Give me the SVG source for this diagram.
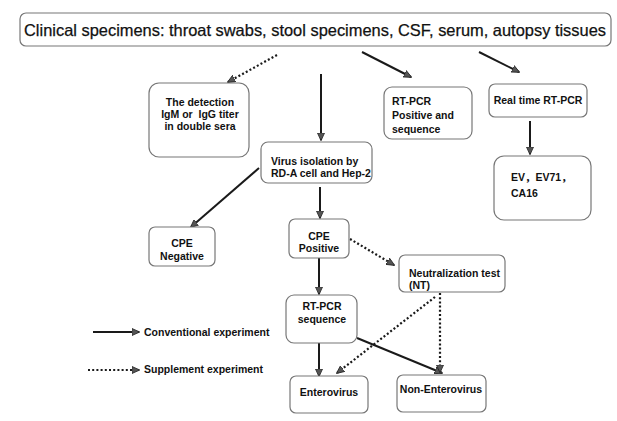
<svg xmlns="http://www.w3.org/2000/svg" width="617" height="421" viewBox="0 0 617 421">
<defs>
<marker id="ah" viewBox="0 0 10 10" refX="9" refY="5" markerWidth="8" markerHeight="8" markerUnits="userSpaceOnUse" orient="auto">
<path d="M0,0.5 L10,5 L0,9.5 Z" fill="#555" stroke="#222" stroke-width="1"/>
</marker>
</defs>
<style>
.box{fill:#fff;stroke:#777;stroke-width:1.2}
.t{font-family:"Liberation Sans",Arial,sans-serif;font-size:10.5px;font-weight:bold;fill:#111}
.cjk{font-family:"Liberation Sans","Noto Sans CJK SC",sans-serif}
.title{font-family:"Liberation Sans",Arial,sans-serif;font-size:16.5px;fill:#111;stroke:#111;stroke-width:0.25}
.solid{stroke:#1a1a1a;stroke-width:2;fill:none;marker-end:url(#ah)}
.dot{stroke:#1a1a1a;stroke-width:2.2;stroke-dasharray:2 2.2;fill:none;marker-end:url(#ah)}
</style>
<rect width="617" height="421" fill="#fff"/>
<g id="connectors">
<line class="dot" x1="277" y1="55" x2="228" y2="82"/>
<line class="solid" x1="321" y1="74" x2="321" y2="140"/>
<line class="solid" x1="362" y1="52" x2="411" y2="77"/>
<line class="solid" x1="479" y1="52" x2="519" y2="72"/>
<line class="solid" x1="530" y1="121" x2="530" y2="154"/>
<line class="solid" x1="259" y1="168" x2="191" y2="227"/>
<line class="solid" x1="320" y1="187" x2="320" y2="218"/>
<line class="dot" x1="350" y1="239" x2="394" y2="265"/>
<line class="solid" x1="319" y1="258" x2="319" y2="294"/>
<line class="solid" x1="319" y1="343" x2="319" y2="376"/>
<line class="solid" x1="357" y1="338" x2="442" y2="373"/>
<line class="dot" x1="440" y1="293" x2="440" y2="372"/>
<line class="dot" x1="435" y1="297" x2="337" y2="373"/>
<line class="solid" x1="93" y1="332" x2="139" y2="332"/>
<line class="dot" x1="88" y1="370" x2="139" y2="370"/>
</g>
<g id="n-clinical">
<rect class="box" x="20" y="13" width="591" height="33" rx="6"/>
<text class="title" x="315" y="36" text-anchor="middle" textLength="582" lengthAdjust="spacingAndGlyphs">Clinical specimens: throat swabs, stool specimens, CSF, serum, autopsy tissues</text>
</g>
<g id="n-detection">
<rect class="box" x="149" y="83" width="100" height="74" rx="10"/>
<text class="t" x="200" y="106" text-anchor="middle">The detection</text>
<text class="t" x="200" y="118" text-anchor="middle" xml:space="preserve">IgM or  IgG titer</text>
<text class="t" x="200" y="130" text-anchor="middle">in double sera</text>
</g>
<g id="n-rtpcr-pos">
<rect class="box" x="384" y="87" width="88" height="52" rx="8"/>
<text class="t" x="392" y="105">RT-PCR</text>
<text class="t" x="392" y="119">Positive and</text>
<text class="t" x="392" y="133">sequence</text>
</g>
<g id="n-realtime">
<rect class="box" x="489" y="84" width="98" height="33" rx="6"/>
<text class="t" x="538" y="104" text-anchor="middle">Real time RT-PCR</text>
</g>
<g id="n-ev">
<rect class="box" x="494" y="156" width="97" height="64" rx="10"/>
<text class="t cjk" x="511" y="181">EV，EV71，</text>
<text class="t" x="511" y="197">CA16</text>
</g>
<g id="n-virus">
<rect class="box" x="261" y="142" width="111" height="41" rx="7"/>
<text class="t" x="271" y="165">Virus isolation by</text>
<text class="t" x="271" y="177">RD-A cell and Hep-2</text>
</g>
<g id="n-cpe-neg">
<rect class="box" x="149" y="227" width="66" height="39" rx="6"/>
<text class="t" x="182" y="247" text-anchor="middle">CPE</text>
<text class="t" x="182" y="260" text-anchor="middle">Negative</text>
</g>
<g id="n-cpe-pos">
<rect class="box" x="289" y="219" width="60" height="39" rx="6"/>
<text class="t" x="319" y="240" text-anchor="middle">CPE</text>
<text class="t" x="319" y="252" text-anchor="middle">Positive</text>
</g>
<g id="n-nt">
<rect class="box" x="399" y="255" width="106" height="37" rx="6"/>
<text class="t" x="409" y="277">Neutralization test</text>
<text class="t" x="409" y="289">(NT)</text>
</g>
<g id="n-rtpcr-seq">
<rect class="box" x="286" y="295" width="71" height="48" rx="8"/>
<text class="t" x="322" y="310" text-anchor="middle">RT-PCR</text>
<text class="t" x="322" y="323" text-anchor="middle">sequence</text>
</g>
<g id="n-entero">
<rect class="box" x="290" y="376" width="78" height="37" rx="6"/>
<text class="t" x="329" y="396" text-anchor="middle">Enterovirus</text>
</g>
<g id="n-nonentero">
<rect class="box" x="397" y="375" width="89" height="37" rx="6"/>
<text class="t" x="441" y="393" text-anchor="middle">Non-Enterovirus</text>
</g>
<g id="legend">
<text class="t" x="144" y="336">Conventional experiment</text>
<text class="t" x="144" y="373">Supplement experiment</text>
</g>
</svg>
